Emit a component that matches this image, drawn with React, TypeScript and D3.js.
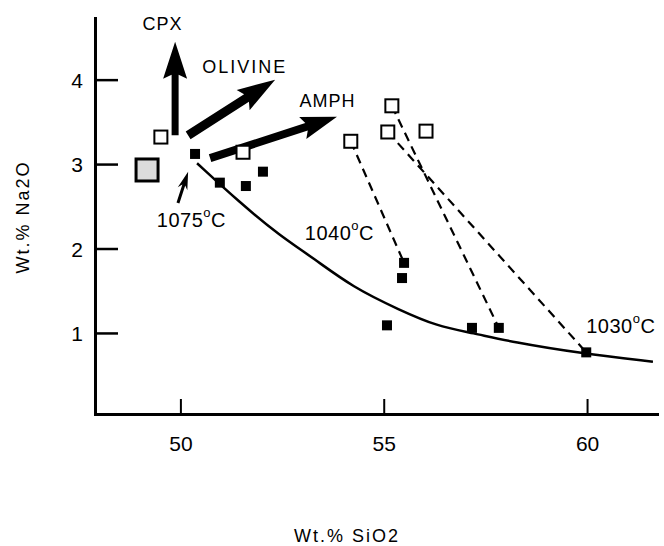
import React, { useRef, useEffect } from 'react';
import { select, scaleLinear, line, curveBasis, axisBottom, axisLeft } from 'd3';

const W = 664, H = 546;

// tick labels
const xTicks = [50, 55, 60];
const yTicks = [1, 2, 3, 4];

// solid liquid line (Wt.% SiO2, Wt.% Na2O)
const curveSiO2 = [50.41, 51.47, 52.45, 53.26, 54.24, 55.4, 56.31, 57.19, 58.18, 59.83, 61.62];
const curveNa2O = [3.01, 2.54, 2.15, 1.89, 1.54, 1.27, 1.08, 1.0, 0.89, 0.76, 0.66];

// glass compositions (open squares)
const openSiO2 = [49.52, 51.54, 54.19, 55.2, 55.1, 56.04];
const openNa2O = [3.32, 3.14, 3.27, 3.69, 3.38, 3.39];

// starting composition (big shaded square)
const startSiO2 = [49.18];
const startNa2O = [2.93];

// liquids (filled squares)
const filledSiO2 = [50.36, 50.97, 51.61, 52.03, 55.5, 55.45, 55.08, 57.17, 57.83, 59.98];
const filledNa2O = [3.12, 2.78, 2.74, 2.91, 1.83, 1.65, 1.09, 1.06, 1.06, 0.77];

// dashed tie lines: open -> filled
const tieFrom = [[54.19, 3.27], [55.2, 3.69], [55.1, 3.38]];
const tieTo = [[55.5, 1.83], [57.83, 1.06], [59.98, 0.77]];

// vectors
const arrowNames = ['CPX', 'OLIVINE', 'AMPH', '1075'];
const arrowFrom = [[49.87, 3.34], [50.19, 3.34], [50.73, 3.07], [49.94, 2.54]];
const arrowTo = [[49.87, 4.45], [52.33, 4.0], [53.85, 3.56], [50.19, 2.91]];

// text labels
const labelText = ['CPX', 'OLIVINE', 'AMPH'];
const labelPos = [[49.56, 4.59], [51.58, 4.08], [53.62, 3.68]];
const tempText = ['1075', '1040', '1030'];
const tempPos = [[49.42, 2.25], [53.06, 2.1], [59.98, 1.0]];

const FONT = '"Liberation Sans", Arial, sans-serif';

const arrowPoly = (x1, y1, x2, y2, sw, hl, hw) => {
    const dx = x2 - x1, dy = y2 - y1;
    const len = Math.sqrt(dx * dx + dy * dy);
    const ux = dx / len, uy = dy / len;
    const nx = -uy, ny = ux;
    const bx = x2 - ux * hl, by = y2 - uy * hl;
    const bk = 4; // barb sweep
    const p = [
        [x1 + nx * sw / 2, y1 + ny * sw / 2],
        [bx + nx * sw / 2, by + ny * sw / 2],
        [bx - ux * bk + nx * hw / 2, by - uy * bk + ny * hw / 2],
        [x2, y2],
        [bx - ux * bk - nx * hw / 2, by - uy * bk - ny * hw / 2],
        [bx - nx * sw / 2, by - ny * sw / 2],
        [x1 - nx * sw / 2, y1 - ny * sw / 2],
    ];
    return p.map(d => d.join(',')).join(' ');
};

const App = () => {
    const svgRef = useRef(null);

    useEffect(() => {
        const svg = select(svgRef.current);
        svg.selectAll('*').remove();

        const x = scaleLinear().domain([47.9, 61.72]).range([95, 657]);
        const y = scaleLinear().domain([0.04, 4.73]).range([414, 18]);

        // axes
        const xAxis = axisBottom(x).tickValues(xTicks).tickFormat(d => String(d))
            .tickSizeInner(-15).tickSizeOuter(0).tickPadding(22);
        const gx = svg.append('g').attr('transform', 'translate(0,414)').call(xAxis);
        gx.select('.domain').attr('stroke-width', 3).attr('stroke-linecap', 'square');
        gx.selectAll('.tick line').attr('stroke-width', 2);

        const yAxis = axisLeft(y).tickValues(yTicks).tickFormat(d => String(d))
            .tickSizeInner(-23).tickSizeOuter(0).tickPadding(12);
        const gy = svg.append('g').attr('transform', 'translate(95,0)').call(yAxis);
        gy.select('.domain').attr('stroke-width', 3).attr('stroke-linecap', 'square');
        gy.selectAll('.tick line').attr('stroke-width', 2.5);

        [gx, gy].forEach(g => g.attr('font-family', FONT).attr('font-size', 21));
        gy.selectAll('.tick text').attr('dy', '0.36em');

        // axis titles
        svg.append('text')
            .attr('x', 347).attr('y', 542)
            .attr('text-anchor', 'middle')
            .attr('font-family', FONT).attr('font-size', 18)
            .attr('letter-spacing', 2)
            .text('Wt.% SiO2');
        svg.append('text')
            .attr('transform', 'translate(29,217) rotate(-90)')
            .attr('text-anchor', 'middle')
            .attr('font-family', FONT).attr('font-size', 18)
            .attr('letter-spacing', 2)
            .text('Wt.% Na2O');

        // solid line
        const curvePts = curveSiO2.map((v, i) => [v, curveNa2O[i]]);
        const myLine = line().x(d => x(d[0])).y(d => y(d[1])).curve(curveBasis);
        svg.append('path')
            .datum(curvePts)
            .attr('d', myLine)
            .attr('fill', 'none')
            .attr('stroke', 'black')
            .attr('stroke-width', 2.5);

        // dashed tie lines
        svg.selectAll('.tie')
            .data(tieFrom)
            .join('line')
            .attr('class', 'tie')
            .attr('x1', d => x(d[0])).attr('y1', d => y(d[1]))
            .attr('x2', (d, i) => x(tieTo[i][0])).attr('y2', (d, i) => y(tieTo[i][1]))
            .attr('stroke', 'black')
            .attr('stroke-width', 2.2)
            .attr('stroke-dasharray', '9 6');

        // arrows
        const arrowStyle = [[7, 33, 24], [9, 34, 24], [8, 32, 23], [3, 14, 10]];
        svg.selectAll('.arrow')
            .data(arrowNames)
            .join('polygon')
            .attr('class', 'arrow')
            .attr('points', (d, i) => {
                const [sw, hl, hw] = arrowStyle[i];
                return arrowPoly(x(arrowFrom[i][0]), y(arrowFrom[i][1]), x(arrowTo[i][0]), y(arrowTo[i][1]), sw, hl, hw);
            })
            .attr('fill', 'black');

        // big shaded square
        const bs = 22;
        svg.selectAll('.start')
            .data(startSiO2)
            .join('rect')
            .attr('class', 'start')
            .attr('x', d => x(d) - bs / 2)
            .attr('y', (d, i) => y(startNa2O[i]) - bs / 2)
            .attr('width', bs).attr('height', bs)
            .attr('fill', '#dcdcdc')
            .attr('stroke', 'black')
            .attr('stroke-width', 3);

        // open squares
        const os = 13;
        svg.selectAll('.open')
            .data(openSiO2)
            .join('rect')
            .attr('class', 'open')
            .attr('x', d => x(d) - os / 2)
            .attr('y', (d, i) => y(openNa2O[i]) - os / 2)
            .attr('width', os).attr('height', os)
            .attr('fill', 'white')
            .attr('stroke', 'black')
            .attr('stroke-width', 2);

        // filled squares
        const fs = 10;
        svg.selectAll('.filled')
            .data(filledSiO2)
            .join('rect')
            .attr('class', 'filled')
            .attr('x', d => x(d) - fs / 2)
            .attr('y', (d, i) => y(filledNa2O[i]) - fs / 2)
            .attr('width', fs).attr('height', fs)
            .attr('fill', 'black');

        // mineral labels
        svg.selectAll('.lab')
            .data(labelText)
            .join('text')
            .attr('class', 'lab')
            .attr('x', (d, i) => x(labelPos[i][0]))
            .attr('y', (d, i) => y(labelPos[i][1]))
            .attr('text-anchor', 'middle')
            .attr('font-family', FONT).attr('font-size', 18)
            .attr('letter-spacing', (d, i) => (i === 1 ? 2 : 1))
            .text(d => d);

        // temperatures
        const tt = svg.selectAll('.temp')
            .data(tempText)
            .join('text')
            .attr('class', 'temp')
            .attr('x', (d, i) => x(tempPos[i][0]))
            .attr('y', (d, i) => y(tempPos[i][1]))
            .attr('font-family', FONT).attr('font-size', 20)
            .attr('letter-spacing', 0.5);
        tt.append('tspan').text(d => d);
        tt.append('tspan').attr('font-size', 13).attr('dy', -10).text('o');
        tt.append('tspan').attr('dy', 10).text('C');
    }, []);

    return (
        <svg ref={svgRef} width={W} height={H} style={{ position: 'absolute', left: 0, top: 0, background: 'white' }} />
    );
};

export default App;
